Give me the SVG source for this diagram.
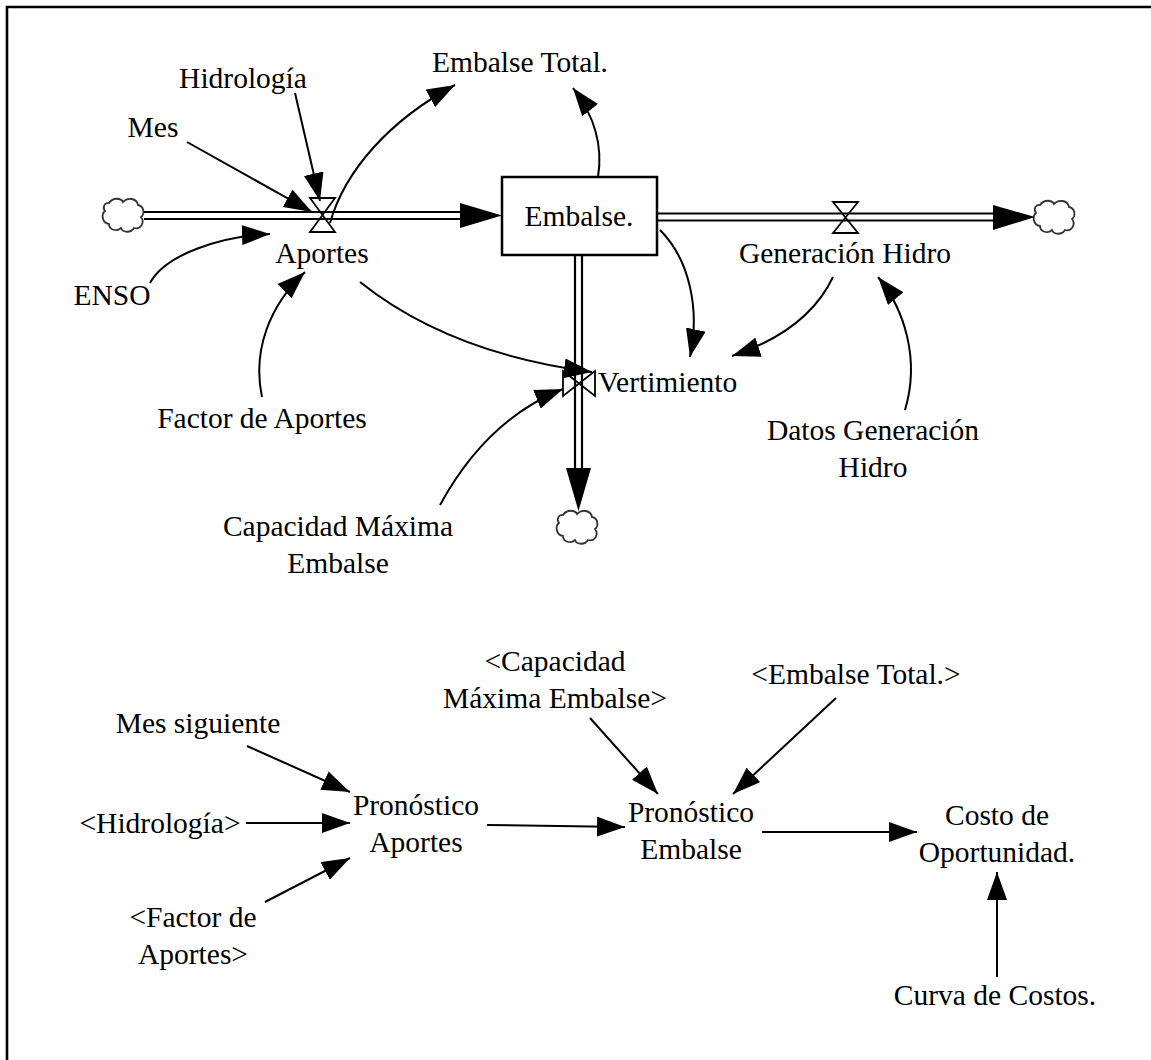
<svg xmlns="http://www.w3.org/2000/svg" width="1151" height="1060" viewBox="0 0 1151 1060">
  <style>
    text { font-family: 'Liberation Serif', 'DejaVu Serif', serif; font-size: 29.5px; fill: #000; text-anchor: middle; }
    .ts { text-anchor: start; }
    .link { fill: none; stroke: #000; stroke-width: 2; marker-end: url(#arrow); }
    .pipe { stroke: #000; stroke-width: 2.2; fill: none; }
    .valve { fill: none; stroke: #000; stroke-width: 1.8; }
    .cloud { fill: #fff; stroke: #333; stroke-width: 1.8; }
    .stock { fill: #fff; stroke: #000; stroke-width: 2.5; }
    .head { fill: #000; }
  </style>
  <defs>
    <marker id="arrow" viewBox="0 0 28 20" refX="28" refY="10" markerWidth="28" markerHeight="20" markerUnits="userSpaceOnUse" orient="auto">
      <path d="M0,0 L28,10 L0,20 z" fill="#000"/>
    </marker>
    <path id="cloudShape" class="cloud" d="M-14,-12 C-10,-18 -2,-17 0,-13 C4,-18 14,-17 15,-10 C21,-9 22,-1 18,2 C22,7 18,15 11,13 C8,18 0,18 -2,13 C-6,17 -14,15 -14,9 C-21,8 -22,-1 -18,-4 C-21,-8 -18,-13 -14,-12 z"/>
  </defs>

  <rect width="1151" height="1060" fill="#fff"/>
  <!-- frame -->
  <path d="M7,1060 V7 H1151" fill="none" stroke="#000" stroke-width="2.6"/>

  <!-- flows, sources and sinks -->
  <g id="flows">
    <g id="cloud-in"><use href="#cloudShape" x="123" y="215"/></g>
    <g id="cloud-out"><use href="#cloudShape" x="1054" y="217"/></g>
    <g id="cloud-spill"><use href="#cloudShape" x="577" y="527"/></g>

    <g id="pipe-aportes">
      <line class="pipe" x1="144" y1="212" x2="462" y2="212"/>
      <line class="pipe" x1="144" y1="219" x2="462" y2="219"/>
      <polygon class="head" points="460,203 502,215.5 460,228"/>
    </g>
    <g id="pipe-generacion">
      <line class="pipe" x1="658" y1="213.5" x2="995" y2="213.5"/>
      <line class="pipe" x1="658" y1="220.5" x2="995" y2="220.5"/>
      <polygon class="head" points="993,205 1035,217 993,230"/>
    </g>
    <g id="pipe-vertimiento">
      <line class="pipe" x1="575" y1="256" x2="575" y2="470"/>
      <line class="pipe" x1="582" y1="256" x2="582" y2="470"/>
      <polygon class="head" points="566,468 591,468 578.5,511"/>
    </g>
  </g>

  <!-- stock -->
  <g id="node-embalse">
    <rect class="stock" x="502" y="177" width="155" height="78"/>
    <text x="579" y="226">Embalse.</text>
  </g>

  <!-- rates -->
  <g id="node-aportes">
    <polygon class="valve" points="310,198 335,198 310,232 335,232"/>
    <text x="322" y="263">Aportes</text>
  </g>
  <g id="node-generacion-hidro">
    <polygon class="valve" points="833,202 858,202 833,233 858,233"/>
    <text x="845" y="263">Generación Hidro</text>
  </g>
  <g id="node-vertimiento">
    <polygon class="valve" points="563,371 595,396 595,371 563,396"/>
    <text class="ts" x="598" y="392">Vertimiento</text>
  </g>

  <!-- auxiliaries -->
  <g id="node-embalse-total"><text x="520" y="72">Embalse Total.</text></g>
  <g id="node-hidrologia"><text x="243" y="88">Hidrología</text></g>
  <g id="node-mes"><text x="153" y="137">Mes</text></g>
  <g id="node-enso"><text x="112" y="305">ENSO</text></g>
  <g id="node-factor-aportes"><text x="262" y="428">Factor de Aportes</text></g>
  <g id="node-capacidad">
    <text x="338" y="536">Capacidad Máxima</text>
    <text x="338" y="573">Embalse</text>
  </g>
  <g id="node-datos-generacion">
    <text x="873" y="440">Datos Generación</text>
    <text x="873" y="477">Hidro</text>
  </g>

  <g id="node-mes-siguiente"><text x="198" y="733">Mes siguiente</text></g>
  <g id="node-hidrologia-shadow"><text x="160" y="833">&lt;Hidrología&gt;</text></g>
  <g id="node-factor-shadow">
    <text x="193" y="927">&lt;Factor de</text>
    <text x="193" y="964">Aportes&gt;</text>
  </g>
  <g id="node-pronostico-aportes">
    <text x="416" y="815">Pronóstico</text>
    <text x="416" y="852">Aportes</text>
  </g>
  <g id="node-capacidad-shadow">
    <text x="555" y="671">&lt;Capacidad</text>
    <text x="555" y="708">Máxima Embalse&gt;</text>
  </g>
  <g id="node-embalse-total-shadow"><text x="856" y="684">&lt;Embalse Total.&gt;</text></g>
  <g id="node-pronostico-embalse">
    <text x="691" y="822">Pronóstico</text>
    <text x="691" y="859">Embalse</text>
  </g>
  <g id="node-costo">
    <text x="997" y="825">Costo de</text>
    <text x="997" y="862">Oportunidad.</text>
  </g>
  <g id="node-curva"><text x="995" y="1005">Curva de Costos.</text></g>

  <!-- causal links -->
  <g id="links">
    <path class="link" d="M187,142 L312,212"/>
    <path class="link" d="M295,93 L320,201"/>
    <path class="link" d="M330,223 C345,170 390,120 455,85"/>
    <path class="link" d="M598,177 C604,140 590,110 573,88"/>
    <path class="link" d="M150,283 C165,255 220,236 270,234"/>
    <path class="link" d="M262,397 C252,350 270,305 305,272"/>
    <path class="link" d="M360,282 C420,330 500,360 592,372"/>
    <path class="link" d="M440,505 C470,450 510,410 563,389"/>
    <path class="link" d="M660,230 C690,260 700,310 690,357"/>
    <path class="link" d="M833,277 C815,315 780,340 732,356"/>
    <path class="link" d="M905,410 C920,360 905,310 878,277"/>

    <path class="link" d="M247,746 L350,792"/>
    <path class="link" d="M246,823 L350,823"/>
    <path class="link" d="M265,902 L350,858"/>
    <path class="link" d="M487,825 L625,827"/>
    <path class="link" d="M590,718 L658,794"/>
    <path class="link" d="M836,698 L733,794"/>
    <path class="link" d="M762,832 L917,832"/>
    <path class="link" d="M997,977 L997,872"/>
  </g>
</svg>
